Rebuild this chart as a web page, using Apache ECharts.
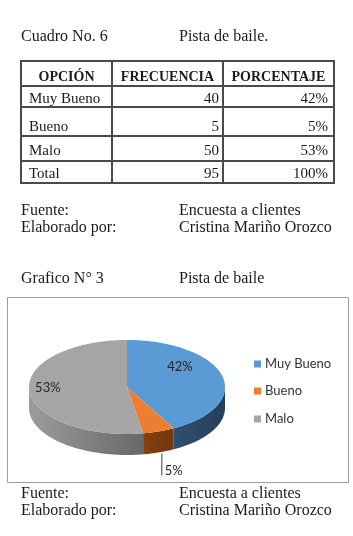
<!DOCTYPE html>
<html><head><meta charset="utf-8">
<script src="https://cdn.jsdelivr.net/npm/echarts@6/dist/echarts.min.js"></script>
<style>html,body{margin:0;padding:0;background:#fff}#c{width:353px;height:536px}</style>
</head><body><div id="c"></div>
<script>
// ---- data ----
const cuadroTitulo = 'Cuadro No. 6';
const cuadroTema = 'Pista de baile.';
const graficoTitulo = 'Grafico N° 3';
const graficoTema = 'Pista de baile';
const encabezados = ['OPCIÓN', 'FRECUENCIA', 'PORCENTAJE'];
const categorias = ['Muy Bueno', 'Bueno', 'Malo'];
const frecuencias = [40, 5, 50];
const porcentajes = ['42%', '5%', '53%'];
const totalEtiqueta = 'Total';
const totalFrecuencia = 95;
const totalPorcentaje = '100%';
const fuente = ['Fuente:', 'Encuesta a clientes'];
const elaborado = ['Elaborado por:', 'Cristina Mariño Orozco'];

// ---- styles ----
const colores = ['#5B9BD5', '#ED7D31', '#A5A5A5'];
const sideColors = [['#2f4f71', '#253f5c'], ['#86410f', '#6f3610'], ['#9c9c9c', '#686868']];
const serif = '"Liberation Serif","Times New Roman",serif';
const sans = 'Lato,"Open Sans",sans-serif';
const ink = '#1a1a1a';
const docFont = '16px ' + serif;

const chart = echarts.init(document.getElementById('c'), null, {renderer: 'canvas', width: 353, height: 536});

function txt(x, y, s, o) {
  o = o || {};
  return {type: 'text', x: x, y: y, silent: true, style: {
    text: s, font: o.font || ('15px ' + serif), fill: o.fill || ink,
    align: o.align || 'left', textAlign: o.align || 'left',
    verticalAlign: 'middle', textVerticalAlign: 'middle'}};
}
function line(x1, y1, x2, y2, c, w) {
  return {type: 'line', silent: true, shape: {x1: x1, y1: y1, x2: x2, y2: y2}, style: {stroke: c, lineWidth: w}};
}

const g = [];
// header texts
g.push(txt(21, 37, cuadroTitulo, {font: docFont}), txt(179, 37, cuadroTema, {font: docFont}));
// table
const colX = [21, 112, 223, 334];
const rowY = [61, 86, 107, 136, 161, 183];
rowY.forEach(y => g.push(line(colX[0] - 1, y, colX[3] + 1, y, '#4a4a4a', 2)));
colX.forEach(x => g.push(line(x, rowY[0], x, rowY[5], '#4a4a4a', 2)));
const hdrFont = 'bold 14px ' + serif;
encabezados.forEach((h, i) => g.push(txt((colX[i] + colX[i + 1]) / 2, 77, h, {font: hdrFont, align: 'center'})));
const rowTextY = [99, 127, 151, 174];
const rows = categorias.map((c, i) => [c, String(frecuencias[i]), porcentajes[i]]);
rows.push([totalEtiqueta, String(totalFrecuencia), totalPorcentaje]);
rows.forEach((r, i) => {
  g.push(txt(29, rowTextY[i], r[0]));
  g.push(txt(219, rowTextY[i], r[1], {align: 'right'}));
  g.push(txt(328, rowTextY[i], r[2], {align: 'right'}));
});
g.push(txt(21, 211, fuente[0], {font: docFont}), txt(179, 211, fuente[1], {font: docFont}));
g.push(txt(21, 228, elaborado[0], {font: docFont}), txt(179, 228, elaborado[1], {font: docFont}));
g.push(txt(21, 279, graficoTitulo, {font: docFont}), txt(179, 279, graficoTema, {font: docFont}));
// chart frame
g.push({type: 'rect', silent: true, shape: {x: 7.5, y: 297.5, width: 341, height: 185}, style: {fill: 'none', stroke: '#9f9f9f', lineWidth: 1}});
// legend
const legY = [364, 391, 419];
categorias.forEach((c, i) => {
  g.push({type: 'rect', silent: true, shape: {x: 254, y: legY[i] - 3.5, width: 7, height: 7}, style: {fill: colores[i]}});
  g.push(txt(265, legY[i], c, {font: '13px ' + sans, fill: '#333'}));
});
g.push(txt(21, 494, fuente[0], {font: docFont}), txt(179, 494, fuente[1], {font: docFont}));
g.push(txt(21, 511, elaborado[0], {font: docFont}), txt(179, 511, elaborado[1], {font: docFont}));

// ---- 3D pie geometry ----
const total = frecuencias.reduce((a, b) => a + b, 0);
const cum = [0];
frecuencias.forEach((v, i) => cum.push(cum[i] + v));
const P = {cx: 127, cy: 387, rx: 98, ry: 47, depth: 21};
function pt(th, dy) { return [P.cx + P.rx * Math.sin(th), P.cy - P.ry * Math.cos(th) + (dy || 0)]; }
function arcPts(a0, a1, dy) {
  const n = Math.max(2, Math.ceil((a1 - a0) / (Math.PI / 180)));
  const out = [];
  for (let k = 0; k <= n; k++) out.push(pt(a0 + (a1 - a0) * k / n, dy));
  return out;
}
const labelNudge = [[-4, -13], [0, 0], [-1, -2]];

function renderItem(params, api) {
  const i = params.dataIndex;
  const a0 = cum[i] / total * 2 * Math.PI, a1 = cum[i + 1] / total * 2 * Math.PI;
  const ch = [];
  const s = Math.max(a0, Math.PI / 2), e = Math.min(a1, 3 * Math.PI / 2);
  if (s < e) {
    const top = arcPts(s, e, 0), bot = arcPts(s, e, P.depth).reverse();
    const xs = top.map(p => p[0]);
    ch.push({type: 'polygon', z2: 1, shape: {points: top.concat(bot)}, style: {
      fill: {type: 'linear', x: Math.min.apply(null, xs), y: 0, x2: Math.max.apply(null, xs), y2: 0, global: true,
        colorStops: [{offset: 0, color: sideColors[i][0]}, {offset: 1, color: sideColors[i][1]}]}}});
  }
  ch.push({type: 'polygon', z2: 5, shape: {points: [[P.cx, P.cy]].concat(arcPts(a0, a1, 0))}, style: {fill: colores[i]}});
  const mid = (a0 + a1) / 2;
  const frac = api.value(0) / total;
  const lblFont = '13px ' + sans;
  if (frac < 0.1) {
    const p = pt(mid, P.depth);
    ch.push({type: 'line', z2: 10, shape: {x1: p[0] + 3, y1: p[1] + 1, x2: p[0] + 3, y2: p[1] + 23}, style: {stroke: '#404040', lineWidth: 1}});
    ch.push({type: 'text', z2: 10, x: p[0] + 6, y: p[1] + 18, style: {text: porcentajes[i], font: lblFont, fill: '#262626', align: 'left', verticalAlign: 'middle'}});
  } else {
    const f = frac > 0.5 ? 0.8 : 0.6;
    const p = [P.cx + P.rx * f * Math.sin(mid), P.cy - P.ry * f * Math.cos(mid)];
    ch.push({type: 'text', z2: 10, x: p[0] + labelNudge[i][0], y: p[1] + labelNudge[i][1], style: {text: porcentajes[i], font: lblFont, fill: '#262626', align: 'center', verticalAlign: 'middle'}});
  }
  return {type: 'group', children: ch};
}

chart.setOption({
  backgroundColor: '#ffffff',
  animation: false,
  graphic: {elements: g},
  series: [{
    type: 'custom',
    coordinateSystem: 'none',
    silent: true,
    renderItem: renderItem,
    data: frecuencias.map((v, i) => ({name: categorias[i], value: [v]}))
  }]
});
</script>
</body></html>
